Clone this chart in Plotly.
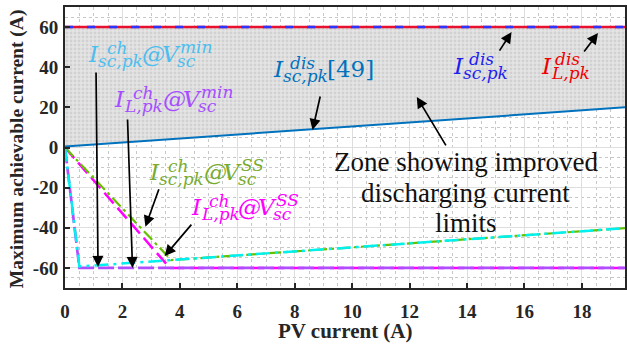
import plotly.graph_objects as go

# ---------------- data ----------------
pv_range = [0, 19.5]
isc_dis_ref49 = [0.5, 20.0]          # I_sc,pk^dis [49]
isc_dis_pk = [60, 60]                # I_sc,pk^dis
il_dis_pk = [60, 60]                 # I_L,pk^dis

isc_ch_min_x = [0, 0.5, 19.5]        # I_sc,pk^ch @ V_sc^min
isc_ch_min_y = [0, -59.3, -40.2]
il_ch_min_x = [0, 0.5, 19.5]         # I_L,pk^ch @ V_sc^min
il_ch_min_y = [0, -60, -60]
isc_ch_ss_x = [0, 3.7, 19.5]         # I_sc,pk^ch @ V_sc^SS
isc_ch_ss_y = [0, -56.1, -40.2]
il_ch_ss_x = [0, 3.65, 19.5]         # I_L,pk^ch @ V_sc^SS
il_ch_ss_y = [0, -60, -60]

y_ticks = [-60, -40, -20, 0, 20, 40, 60]
y_ticklabels = ["-60", "-40", "-20", "0", "20", "40", "60"]
x_ticks = [0, 2, 4, 6, 8, 10, 12, 14, 16, 18]

# ---------------- figure ----------------
W, H = 627, 345
L, R, T, B = 65, 0, 7, 57
PW, PH = W - L - R, H - T - B

fig = go.Figure()

fig.add_trace(go.Scatter(x=pv_range, y=isc_dis_ref49, mode="lines",
                         line=dict(width=0), hoverinfo="skip", showlegend=False))
fig.add_trace(go.Scatter(x=pv_range, y=il_dis_pk, mode="lines", line=dict(width=0),
                         fill="tonexty", fillcolor="#e0e0e0",
                         fillpattern=dict(shape=".", fgcolor="#bdbdbd", bgcolor="#e4e4e4",
                                          size=4, solidity=0.4),
                         hoverinfo="skip", showlegend=False))

fig.add_trace(go.Scatter(x=pv_range, y=isc_dis_ref49, mode="lines",
                         line=dict(color="#0072BD", width=2), showlegend=False))
fig.add_trace(go.Scatter(x=pv_range, y=il_dis_pk, mode="lines",
                         line=dict(color="#E8102E", width=2.5), showlegend=False))
fig.add_trace(go.Scatter(x=pv_range, y=isc_dis_pk, mode="lines",
                         line=dict(color="#2B35FF", width=2.5, dash="8px,14px"), showlegend=False))

fig.add_trace(go.Scatter(x=il_ch_ss_x, y=il_ch_ss_y, mode="lines",
                         line=dict(color="#FF00FF", width=2.5, dash="14px,6px"), showlegend=False))
fig.add_trace(go.Scatter(x=il_ch_min_x, y=il_ch_min_y, mode="lines",
                         line=dict(color="#B14CFF", width=2.7, dash="16px,4px"), showlegend=False))
fig.add_trace(go.Scatter(x=isc_ch_ss_x, y=isc_ch_ss_y, mode="lines",
                         line=dict(color="#66C000", width=2.2, dash="12px,4px,3px,4px"), showlegend=False))
fig.add_trace(go.Scatter(x=isc_ch_min_x, y=isc_ch_min_y, mode="lines",
                         line=dict(color="#00F0F0", width=2.5, dash="14px,5px,3px,5px"), showlegend=False))

ann = []


def P(px, py):
    return (px - L) / PW, (H - B - py) / PH


def txt(px, base, s, color, size, family="DejaVu Serif", italic=True):
    x, y = P(px, base - 0.26 * size)
    ann.append(dict(xref="paper", yref="paper", x=x, y=y, xanchor="left", yanchor="middle",
                    text=s, showarrow=False, borderpad=0,
                    font=dict(family=family, size=size, color=color,
                              style="italic" if italic else "normal")))


MS, SS = 23, 17


def mathlabel(color, parts):
    for (px, base, s, kind) in parts:
        if kind == "m":
            txt(px, base, s, color, MS)
        elif kind == "r":
            txt(px, base, s, color, MS, italic=False)
        else:
            txt(px, base, s, color, SS)


# I_sc,pk^ch @ V_sc^min (cyan)
mathlabel("#4DBEEE", [(87, 60, "I", "m"), (106, 52, "ch", "s"), (97, 65, "sc,pk", "s"),
                      (141, 60, "@", "m"), (161, 60, "V", "m"), (179, 51, "min", "s"),
                      (176, 65, "sc", "s")])
# I_L,pk^ch @ V_sc^min (purple)
mathlabel("#A64DFF", [(113, 105, "I", "m"), (132, 97, "ch", "s"), (123, 110, "L,pk", "s"),
                      (162, 105, "@", "m"), (182, 105, "V", "m"), (200, 96, "min", "s"),
                      (197, 110, "sc", "s")])
# I_sc,pk^ch @ V_sc^SS (green)
mathlabel("#77AC30", [(148, 178, "I", "m"), (167, 170, "ch", "s"), (158, 183, "sc,pk", "s"),
                      (203, 178, "@", "m"), (223, 178, "V", "m"), (241, 169, "SS", "s"),
                      (238, 183, "sc", "s")])
# I_L,pk^ch @ V_sc^SS (magenta)
mathlabel("#FF00FF", [(190, 213, "I", "m"), (209, 205, "ch", "s"), (200, 218, "L,pk", "s"),
                      (238, 213, "@", "m"), (258, 213, "V", "m"), (276, 204, "SS", "s"),
                      (273, 218, "sc", "s")])
# I_sc,pk^dis [49] (blue)
mathlabel("#0072BD", [(273, 75, "I", "m"), (290, 67, "dis", "s"), (283, 80, "sc,pk", "s"),
                      (327, 75, "[49]", "r")])
# I_sc,pk^dis (blue)
mathlabel("#1E1EF0", [(453, 72, "I", "m"), (469, 63, "dis", "s"), (463, 77, "sc,pk", "s")])
# I_L,pk^dis (red)
mathlabel("#F00000", [(542, 72, "I", "m"), (556, 63, "dis", "s"), (552, 77, "L,pk", "s")])

# Zone text
for line, base in [("Zone showing improved", 170), ("discharging current", 201), ("limits", 231)]:
    x, y = P(467, base - 0.3 * 27)
    ann.append(dict(xref="paper", yref="paper", x=x, y=y, xanchor="center", yanchor="middle",
                    text=line, showarrow=False, borderpad=0,
                    font=dict(family="Liberation Serif", size=27, color="#111111")))

# Arrows: head (data), tail offset (pixels)
arrows = [
    (1.15, -59.5, -2, -196),
    (2.35, -60.0, -5, -150),
    (2.80, -39.5, 14, -39),
    (3.47, -54.1, 28, -33),
    (8.62, 8.7, 8, -35),
    (15.55, 57.5, -13, 20),
    (18.56, 57.0, -15, 20),
    (12.25, 25.2, 30, 50),
]
for hx, hy, ax, ay in arrows:
    ann.append(dict(xref="x", yref="y", x=hx, y=hy, ax=ax, ay=ay, text="", showarrow=True,
                    arrowhead=2, arrowsize=1.3, arrowwidth=1.7, arrowcolor="#000000",
                    standoff=0, startstandoff=0))

# Axis titles
x, y = P(346, 331)
ann.append(dict(xref="paper", yref="paper", x=x, y=y, xanchor="center", yanchor="middle",
                text="<b>PV current (A)</b>", showarrow=False,
                font=dict(family="Liberation Serif", size=21, color="#262626")))
x, y = P(17, 149)
ann.append(dict(xref="paper", yref="paper", x=x, y=y, xanchor="center", yanchor="middle",
                text="<b>Maximum achievable current (A)</b>", showarrow=False, textangle=-90,
                font=dict(family="Liberation Serif", size=19.5, color="#262626")))

axis_common = dict(
    ticks="inside", ticklen=5, tickwidth=1.5, tickcolor="#262626",
    showline=True, linewidth=2, linecolor="#262626", mirror=True,
    showgrid=True, gridcolor="#dedede", gridwidth=1, zeroline=False,
    tickfont=dict(family="Liberation Serif", size=19, color="#262626", weight="bold"),
)

fig.update_layout(
    width=W, height=H,
    margin=dict(l=L, r=R, t=T, b=B),
    paper_bgcolor="white", plot_bgcolor="white",
    showlegend=False,
    annotations=ann,
    xaxis=dict(range=[0, 19.5], tickvals=x_ticks, ticklabelstandoff=5,
               minor=dict(dtick=0.5, tick0=0, showgrid=True, gridcolor="#c8c8c8",
                          griddash="dot", gridwidth=1, ticks=""),
               **axis_common),
    yaxis=dict(range=[-70, 70], tickvals=y_ticks, ticktext=y_ticklabels, ticklabelstandoff=1,
               minor=dict(dtick=5, tick0=0, showgrid=True, gridcolor="#c8c8c8",
                          griddash="dot", gridwidth=1, ticks=""),
               **axis_common),
)

fig.write_html("out.html")
